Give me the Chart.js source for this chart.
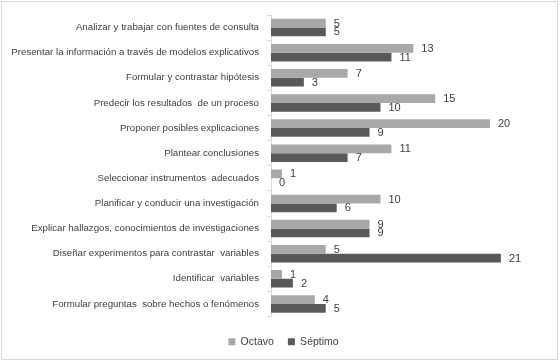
<!DOCTYPE html>
<html>
<head>
<meta charset="utf-8">
<script src="https://cdn.jsdelivr.net/npm/chart.js@4"></script>
<style>
	html, body { margin: 0; padding: 0; background: #fff; }
	#wrap { position: relative; width: 560px; height: 362px; }
</style>
</head>
<body>
<div id="wrap"><canvas id="chart-skills"></canvas></div>
<script>
// Chart data
const CATEGORIES = [
	"Analizar y trabajar con fuentes de consulta",
	"Presentar la información a través de modelos explicativos",
	"Formular y contrastar hipótesis",
	"Predecir los resultados  de un proceso",
	"Proponer posibles explicaciones",
	"Plantear conclusiones",
	"Seleccionar instrumentos  adecuados",
	"Planificar y conducir una investigación",
	"Explicar hallazgos, conocimientos de investigaciones",
	"Diseñar experimentos para contrastar  variables",
	"Identificar  variables",
	"Formular preguntas  sobre hechos o fenómenos",
];
const OCTAVO = [5, 13, 7, 15, 20, 11, 1, 10, 9, 5, 1, 4];
const SEPTIMO = [5, 11, 3, 10, 9, 7, 0, 6, 9, 21, 2, 5];

const FONT = "'Liberation Sans', Arial, sans-serif";
const TEXT_COLOR = "#404040";

// Value labels at the end of each bar
const valueLabels = {
	id: "valueLabels",
	afterDatasetsDraw(chart) {
		const { ctx } = chart;
		ctx.save();
		ctx.font = "11px " + FONT;
		ctx.fillStyle = TEXT_COLOR;
		ctx.textAlign = "left";
		ctx.textBaseline = "middle";
		chart.data.datasets.forEach((ds, i) => {
			chart.getDatasetMeta(i).data.forEach((bar, j) => {
				ctx.fillText(String(ds.data[j]), bar.x + 8, bar.y + 0.5);
			});
		});
		ctx.restore();
	},
};

// Light frame around the picture
const frame = {
	id: "frame",
	beforeDraw(chart) {
		const { ctx } = chart;
		ctx.save();
		ctx.strokeStyle = "#d9d9d9";
		ctx.lineWidth = 1;
		ctx.strokeRect(1.5, 1.5, chart.width - 4, chart.height - 4);
		ctx.restore();
	},
};

const CHART_CONFIG = {
	type: "bar",
	data: {
		labels: CATEGORIES,
		datasets: [
			{
				label: "Octavo",
				data: OCTAVO,
				backgroundColor: "#a8a8a8",
				borderWidth: 0,
				categoryPercentage: 0.7,
				barPercentage: 1,
			},
			{
				label: "Séptimo",
				data: SEPTIMO,
				backgroundColor: "#595959",
				borderWidth: 0,
				categoryPercentage: 0.7,
				barPercentage: 1,
			},
		],
	},
	options: {
		indexAxis: "y",
		responsive: true,
		maintainAspectRatio: false,
		animation: false,
		layout: {
			padding: { left: 7, right: 0, top: 15, bottom: 5 },
		},
		plugins: {
			legend: {
				position: "bottom",
				labels: {
					boxWidth: 7,
					boxHeight: 7,
					padding: 14,
					color: TEXT_COLOR,
					font: { family: FONT, size: 10.5 },
				},
			},
			tooltip: { enabled: false },
		},
		scales: {
			x: {
				// invisible axis, only keeps a gap above the legend
				min: 0,
				max: 26.4,
				afterFit(scale) {
					scale.height = 6;
				},
				border: { display: false },
				grid: { display: false },
				ticks: { display: false },
			},
			y: {
				afterFit(scale) {
					scale.width = 264;
				},
				border: { display: true, color: "#d9d9d9" },
				grid: {
					offset: true,
					drawOnChartArea: false,
					tickLength: 4,
					color: "#d9d9d9",
				},
				ticks: {
					color: TEXT_COLOR,
					padding: 8,
					font: { family: FONT, size: 9.7 },
				},
			},
		},
	},
	plugins: [valueLabels, frame],
};

new Chart(document.getElementById("chart-skills"), CHART_CONFIG);
</script>
</body>
</html>
